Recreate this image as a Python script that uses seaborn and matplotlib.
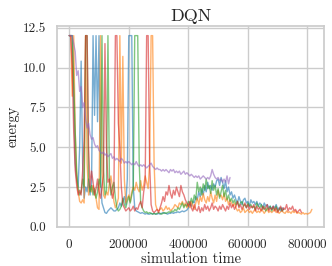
import matplotlib
matplotlib.use("Agg")
import matplotlib.pyplot as plt
import numpy as np
import pandas as pd
import seaborn as sns

# ── data: energy per run, sampled every STEP simulation steps ───────────────
STEP = 5000

run_blue = [
    12, 12, 12, 8, 4, 3, 2.5, 5, 10.4, 4,
    1.8, 2.5, 2.2, 3.0, 2.0, 2.8, 12, 7, 12, 6.6,
    12, 3, 1.5, 1.2, 0.9, 0.85, 1.0, 1.1, 1.2, 1.1,
    1.0, 1.0, 1.1, 1.2, 1.5, 1.3, 1.6, 1.9, 1.4, 3.0,
    12, 12, 12, 2.5, 1.2, 1.0,
    0.95, 0.9, 0.85, 0.9, 0.85, 0.8, 0.85, 0.8, 0.8, 0.85,
    0.8, 0.85, 0.8, 0.8, 0.85, 0.8, 0.85, 0.9, 0.85, 0.85,
    0.8, 0.85, 0.85, 0.9, 0.85, 0.9, 0.9, 0.95, 0.9, 0.95,
    1.0, 0.95, 1.0, 1.05,
    1.2, 1.4, 1.3, 1.6, 1.5, 1.9, 1.7, 2.2, 1.9, 2.4,
    2.0, 2.6, 2.2, 2.8, 2.4, 2.6,
    2.3, 2.7, 2.5, 2.9, 3.0, 2.6, 3.1, 2.8, 2.4, 2.9,
    2.2, 2.5, 2.0, 2.2,
    1.8, 2.0, 1.7, 1.5, 1.9, 1.6, 1.4, 1.7, 1.8, 1.5,
    1.6, 1.3, 1.7, 1.5, 1.6,
    1.4, 1.6, 1.3, 1.5, 1.4, 1.2, 1.5, 1.3, 1.4, 1.2,
    1.3, 1.1, 1.3, 1.2, 1.4, 1.1, 1.2, 1.0, 1.2, 1.1,
]

run_orange = [
    12, 12, 8.2, 12, 6, 3, 2.2, 1.6, 1.5, 1.7,
    1.5, 12, 4, 2.0, 2.5, 2.2, 2.6, 2.1, 1.8, 1.2,
    1.1, 12, 3.5, 2.0, 1.8, 2.2, 2.0, 2.8, 3.2, 2.5,
    1.6, 1.2, 1.4, 1.8, 12, 4, 10.7, 3, 1.5, 1.8,
    2.0, 1.6, 2.2, 2.5, 2.3, 2.8, 2.4, 2.2, 2.9, 2.3,
    2.6, 3.2, 2.8, 2.4, 4.0, 12, 12, 4, 1.4, 1.1,
    1.0,
    1.1, 1.2, 1.0, 1.1, 1.3, 1.1, 1.2, 1.0, 1.1, 1.2,
    1.4, 1.3, 1.2, 1.5, 1.4, 1.6, 1.3, 1.5, 1.2,
    1.4, 1.2, 1.6, 1.3, 1.1, 1.5, 1.8, 1.4, 1.9, 1.6,
    2.1, 1.7, 1.5, 1.9, 1.6, 2.2, 1.8, 1.5, 2.0, 1.6,
    2.3, 1.9, 2.0, 1.7, 2.1, 1.6, 1.8, 1.4, 1.7, 1.5,
    1.3, 1.5, 1.2, 1.0, 1.1, 0.9, 1.0, 1.2, 0.9, 1.0,
    1.1, 0.9, 1.0, 0.85, 1.0, 1.1, 0.9, 1.0, 0.9, 1.1,
    1.0, 0.85, 1.0, 1.1, 0.9, 1.0, 0.9, 1.0, 1.1, 0.9,
    1.0, 0.85, 0.95, 1.0, 0.9, 0.85, 1.0, 0.9, 0.95, 0.85,
    1.0, 0.9, 1.0, 0.85, 0.9, 0.85, 0.8, 0.9, 0.8, 0.85,
    0.8, 0.85, 0.9, 1.1,
]

run_green = [
    12, 12, 12, 9, 6, 3.5, 2.4, 2.0, 2.2, 3.0,
    2.5, 12, 12, 3, 2.2, 2.6, 2.0, 2.4, 1.8, 2.2,
    3.0, 2.5, 12, 3.5, 2.0, 2.3, 12, 3, 2.0, 2.5,
    2.8, 1.8, 1.2, 1.0, 1.1, 1.3, 1.8, 1.4, 1.2, 1.6,
    1.9, 1.5, 2.0, 2.4, 12, 12, 12, 4, 1.5, 1.2,
    1.0,
    0.9, 0.95, 0.85, 0.9, 0.85, 0.8, 0.85, 0.8, 0.85, 0.9,
    0.85, 0.8, 0.85, 0.9, 0.85, 0.9, 0.95, 0.9, 1.0, 0.95,
    1.1, 1.0, 1.2, 1.1, 1.3, 1.5, 1.2, 1.4, 1.3,
    1.6, 1.4, 1.8, 1.5, 2.0, 1.7, 2.8, 2.2, 2.5, 2.0,
    2.7, 2.3, 3.0, 2.4, 2.6, 2.1, 2.9, 2.3, 2.6, 2.0,
    2.4, 1.8, 2.2, 2.6, 1.9, 2.3, 1.7, 2.0, 1.6, 1.8,
    1.5,
    1.7, 1.4, 1.6, 1.3, 1.5, 1.6, 1.3, 1.4, 1.2, 1.5,
    1.3, 1.4, 1.2, 1.3, 1.1, 1.5, 1.3, 1.2, 1.4, 1.1,
    1.3, 1.0, 1.2, 1.1, 1.3, 1.0, 1.2, 1.1, 1.3, 1.0,
    1.1, 1.2, 1.0, 1.1,
]

run_red = [
    12, 12, 10, 6, 3.6, 2.6, 2.0, 2.3, 2.0, 3.5,
    5.5, 12, 12, 5, 2.5, 3.5, 2.8, 2.0, 2.4, 3.0,
    2.2, 1.8, 2.5, 3.2, 11.5, 5, 2.8, 3.0, 2.4, 1.8,
    2.2, 12, 12, 6.5, 5.0, 2.5, 1.4, 1.2, 1.0, 1.1,
    1.2, 1.0, 1.1, 1.3, 1.0, 1.2, 1.1, 1.4, 1.6, 1.2,
    2.2, 2.8, 12, 12, 4, 1.4, 1.0, 0.9, 1.0, 1.1,
    0.9,
    1.2, 1.5, 1.9, 1.6, 2.2, 2.0, 2.6, 2.1, 1.8, 2.3,
    2.0, 2.5, 2.2, 1.9, 2.6, 2.2, 2.0, 1.7, 1.5,
    1.3, 1.6, 1.2, 1.0, 1.4, 1.1, 1.0, 1.3, 0.9, 1.2,
    1.0, 1.4, 1.1, 1.3, 1.0, 1.2, 1.5, 1.1, 1.3, 1.2,
    1.0, 1.3, 1.1, 1.4, 1.2, 1.0, 1.3, 1.1, 1.5, 1.2,
    1.4, 1.1, 1.3, 1.6, 1.2, 1.4, 1.1, 1.3, 1.5, 1.2,
    1.4, 1.1, 1.3, 1.2, 1.4, 1.0, 1.3, 1.1, 1.2, 1.0,
    1.3, 1.1, 1.2, 1.4, 1.0, 1.2, 1.1, 1.3, 1.0, 1.2,
    0.9, 1.1, 1.3, 1.0, 1.2, 1.1, 1.4, 1.0, 1.2, 1.1,
    1.3, 1.0, 1.1, 0.9, 1.0, 1.1, 0.9,
]

run_purple = [
    12, 12, 12, 11.5, 11.0, 9.5, 9.8, 8.5, 8.8, 7.5,
    7.8, 6.8, 6.2, 6.5, 5.8, 5.5, 5.6, 5.2, 5.0, 5.1,
    4.8,
    4.7, 4.6, 4.7, 4.5, 4.6, 4.4, 4.5, 4.6, 4.3, 4.4,
    4.2, 4.3, 4.2, 4.1, 4.3, 4.2, 4.0, 4.1, 4.0, 4.1,
    4.0, 3.9, 4.0, 3.9, 4.1, 3.9, 3.8, 3.9, 3.8, 3.9,
    3.8, 3.7, 3.8, 3.9, 4.0, 3.8, 3.7, 3.6, 3.7, 3.6,
    3.6, 3.5, 3.6, 3.5, 3.6, 3.5, 3.4, 3.6, 3.5, 3.6,
    3.4, 3.5, 3.4, 3.5, 3.3, 3.4, 3.5, 3.3, 3.4, 3.3,
    3.2, 3.3, 3.2, 3.1, 3.2, 3.1, 3.2, 3.0, 3.1, 3.2,
    3.1, 3.0, 3.1, 3.0, 3.2, 3.6, 3.3, 3.1, 3.0, 3.1,
    2.9, 3.0, 2.8, 3.0, 2.8, 3.2, 2.7, 3.1,
]

RUNS = [run_blue, run_orange, run_green, run_red, run_purple]

# ── build long table ────────────────────────────────────────────────────────
frames = []
for k, vals in enumerate(RUNS):
    frames.append(pd.DataFrame({
        "time": np.arange(len(vals)) * STEP,
        "energy": vals,
        "run": k,
    }))
df = pd.concat(frames, ignore_index=True)

# ── style ───────────────────────────────────────────────────────────────────
sns.set_theme(style="whitegrid")
plt.rcParams["font.family"] = "serif"
plt.rcParams["font.serif"] = ["cmr10", "DejaVu Serif"]
plt.rcParams["mathtext.fontset"] = "cm"
plt.rcParams["axes.formatter.use_mathtext"] = True

fig = plt.figure(figsize=(3.32, 2.66), dpi=100)
ax = fig.add_axes([0.172, 0.147, 0.804, 0.755])

sns.lineplot(
    data=df, x="time", y="energy", hue="run",
    palette=sns.color_palette("tab10", 5),
    estimator=None, alpha=0.6, linewidth=1.0,
    legend=False, ax=ax,
)

ax.set_ylim(0, 12.6)
ax.set_xticks([0, 200000, 400000, 600000, 800000])
ax.set_yticks([0, 2.5, 5, 7.5, 10, 12.5])
ax.set_yticklabels(["0.0", "2.5", "5.0", "7.5", "10.0", "12.5"])
ax.tick_params(labelsize=9.5, pad=2)
ax.set_xlabel("simulation time", fontsize=10.5, labelpad=1)
ax.set_ylabel("energy", fontsize=10.5, labelpad=2)
ax.set_title("DQN", fontsize=13, pad=4)

fig.savefig("out.png", dpi=100)
